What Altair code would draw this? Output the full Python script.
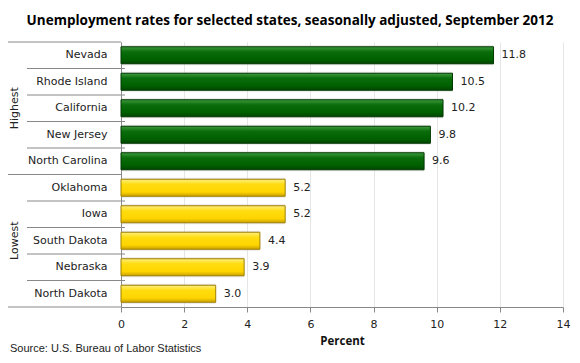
import altair as alt
import pandas as pd

states = ["Nevada", "Rhode Island", "California", "New Jersey", "North Carolina",
          "Oklahoma", "Iowa", "South Dakota", "Nebraska", "North Dakota"]
rates = [11.8, 10.5, 10.2, 9.8, 9.6, 5.2, 5.2, 4.4, 3.9, 3.0]
groups = ["Highest"] * 5 + ["Lowest"] * 5
group_names = ["Highest", "Lowest"]
x_ticks = [0, 2, 4, 6, 8, 10, 12, 14]
title_text = "Unemployment rates for selected states, seasonally adjusted, September 2012"
source_text = "Source: U.S. Bureau of Labor Statistics"

df = pd.DataFrame({"state": states, "rate": rates, "group": groups})
df["label"] = df["rate"].map(lambda v: f"{v:.1f}")

first_in_group = [df[df.group == g].state.iloc[0] for g in group_names]
inner = pd.DataFrame({"state": [s for s in states if s not in first_in_group]})
group_top = pd.DataFrame({"state": first_in_group})
bottom = pd.DataFrame({"state": [states[-1]]})
mid = pd.DataFrame({"group": group_names,
                    "state": [df[df.group == g].state.iloc[2] for g in group_names]})
src = pd.DataFrame({"t": [source_text]})

FONT = "DejaVu Sans"
ysc = alt.Scale(domain=states, paddingInner=0, paddingOuter=0)
yaxis = alt.Axis(ticks=False, domain=True, domainColor="#888888", labelPadding=14,
                 labelFont=FONT, labelFontSize=11, labelColor="#222222", grid=False)


def Y(bp=None):
    if bp is None:
        return alt.Y("state:N", scale=ysc, sort=states, axis=yaxis, title=None)
    return alt.Y("state:N", scale=ysc, sort=states, axis=yaxis, title=None, bandPosition=bp)


X = alt.X("rate:Q", scale=alt.Scale(domain=[0, 14], nice=False),
          axis=alt.Axis(values=x_ticks, grid=True, gridColor="#e6e6e6", domainColor="#888888",
                        tickColor="#888888", tickSize=5, labelPadding=6, labelFont=FONT,
                        labelFontSize=11, labelColor="#222222", labelFlush=False,
                        titleFont="Open Sans", titleFontSize=11.5, titleFontWeight="bold",
                        titleColor="#111111", titlePadding=6),
          title="Percent")

green = alt.Gradient(gradient="linear", x1=0, x2=0, y1=0, y2=1,
                     stops=[alt.GradientStop(offset=0, color="#3f9c3f"),
                            alt.GradientStop(offset=0.3, color="#0a6c0a"),
                            alt.GradientStop(offset=0.75, color="#006000"),
                            alt.GradientStop(offset=1, color="#004400")])
yellow = alt.Gradient(gradient="linear", x1=0, x2=0, y1=0, y2=1,
                      stops=[alt.GradientStop(offset=0, color="#fff080"),
                             alt.GradientStop(offset=0.3, color="#ffdc10"),
                             alt.GradientStop(offset=0.75, color="#ffd500"),
                             alt.GradientStop(offset=1, color="#c9a200")])

base = alt.Chart(df)

shadow = base.mark_bar(size=20, color="#b0b0b0", opacity=0.3).encode(x=X, y=Y())
bars_hi = base.transform_filter(alt.datum.group == "Highest").mark_bar(
    size=17, color=green, stroke="#003800", strokeWidth=1).encode(x=X, y=Y())
bars_lo = base.transform_filter(alt.datum.group == "Lowest").mark_bar(
    size=17, color=yellow, stroke="#a08000", strokeWidth=1).encode(x=X, y=Y())
labels = base.mark_text(align="left", baseline="middle", dx=8, font=FONT, fontSize=11,
                        color="#222222").encode(x=X, y=Y(), text="label:N")

inner_rules = alt.Chart(inner).mark_rule(color="#888888", strokeWidth=1).encode(
    y=Y(0), x=alt.value(-94), x2=alt.value(4))
group_rules = alt.Chart(group_top).mark_rule(color="#888888", strokeWidth=1).encode(
    y=Y(0), x=alt.value(-121), x2=alt.value(0))
bottom_rule = alt.Chart(bottom).mark_rule(color="#888888", strokeWidth=1).encode(
    y=Y(1), x=alt.value(-121), x2=alt.value(0))
group_text = alt.Chart(mid).mark_text(angle=270, baseline="middle", align="center",
                                      font=FONT, fontSize=11, color="#222222").encode(
    y=Y(), x=alt.value(-106), text="group:N")
source = alt.Chart(src).mark_text(align="left", baseline="middle", font="Liberation Sans",
                                  fontSize=11, color="#222222").encode(
    x=alt.value(-111), y=alt.value(307), text="t:N")

chart = alt.layer(shadow, bars_hi, bars_lo, labels, inner_rules, group_rules, bottom_rule,
                  group_text, source).properties(
    width=442, height=265,
    title=alt.TitleParams(title_text, font="Open Sans", fontSize=13.5, fontWeight="bold",
                          color="#000000", anchor="middle", dx=-52, offset=14),
    autosize=alt.AutoSizeParams(type="none"),
    padding={"left": 113, "top": 34, "right": 9, "bottom": 48},
).configure_view(stroke=None)

chart.save("out.html", embed_options={"renderer": "svg", "actions": False})
